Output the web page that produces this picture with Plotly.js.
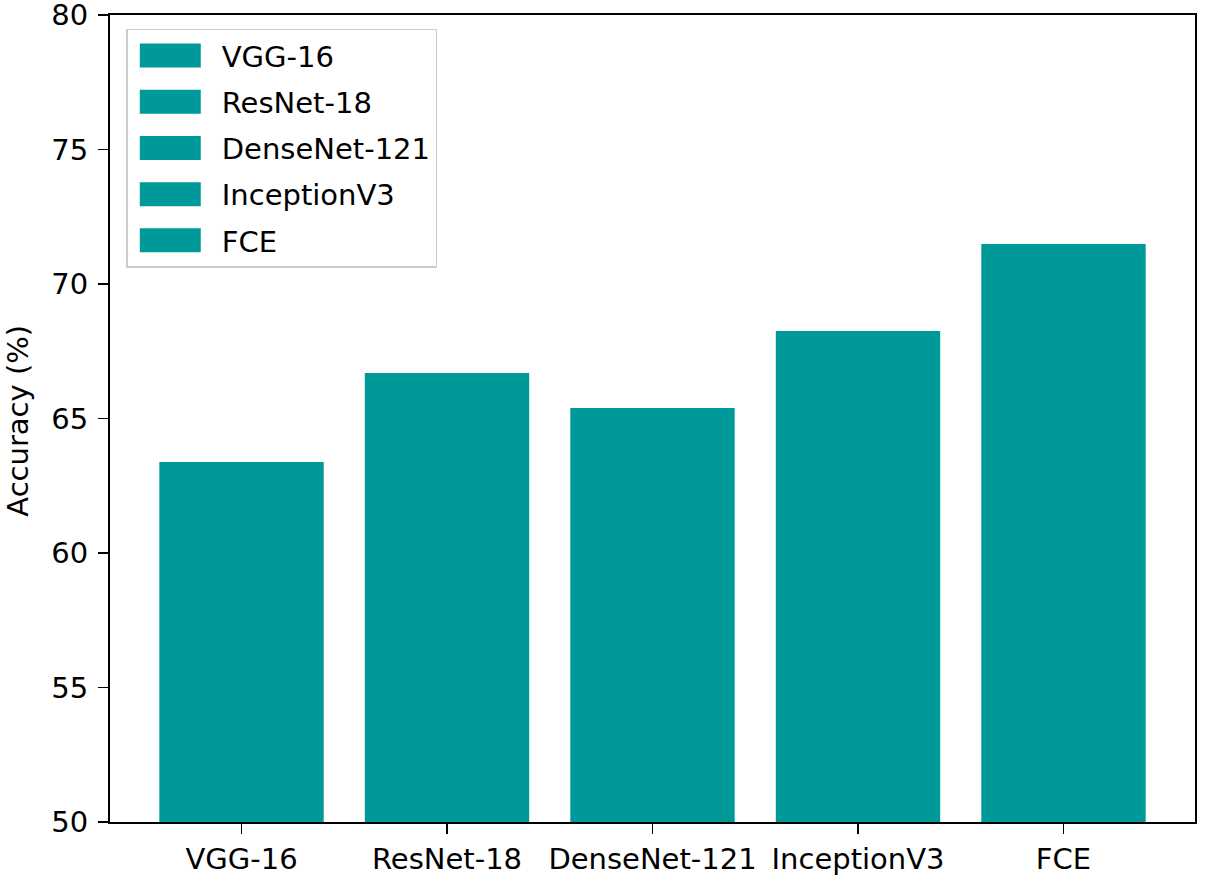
<!DOCTYPE html>
<html>
<head>
<meta charset="utf-8">
<script src="https://cdn.plot.ly/plotly-3.0.1.min.js"></script>
<style>
  html, body { margin: 0; padding: 0; background: #fff; }
  #chart { width: 1205px; height: 878px; }
</style>
</head>
<body>
<div id="chart"></div>
<script>
// model names and accuracy
const models = ['VGG-16', 'ResNet-18', 'DenseNet-121', 'InceptionV3', 'FCE'];
const accuracy = [63.38, 66.69, 65.39, 68.25, 71.49];
const yTicks = [50, 55, 60, 65, 70, 75, 80];

const barColor = '#009999';
const font = 'DejaVu Sans, sans-serif';
const fs = 29;

// one trace per model so each gets its own legend entry
let data = [];
for (let i = 0; i < models.length; i++) {
  data.push({
    type: 'bar',
    name: models[i],
    legendgroup: 'g' + i,
    x: [models[i]],
    y: [accuracy[i]],
    width: 0.8,
    marker: { color: barColor, line: { width: 0 } },
    hoverinfo: 'x+y'
  });
}

const layout = {
  width: 1205,
  height: 878,
  margin: { l: 110, r: 10, t: 15, b: 56 },
  paper_bgcolor: '#fff',
  plot_bgcolor: '#fff',
  barmode: 'overlay',
  font: { family: font, size: fs, color: '#000' },
  xaxis: {
    type: 'category',
    categoryorder: 'array',
    categoryarray: models,
    range: [-0.64, 4.64],
    showgrid: false,
    zeroline: false,
    showline: true,
    linecolor: '#000',
    linewidth: 2,
    mirror: true,
    ticks: 'outside',
    ticklen: 10,
    tickwidth: 1.5,
    tickcolor: '#000',
    tickfont: { family: font, size: fs, color: '#000' }
  },
  yaxis: {
    range: [50, 80],
    tickvals: yTicks,
    ticktext: yTicks.map(String),
    showgrid: false,
    zeroline: false,
    showline: true,
    linecolor: '#000',
    linewidth: 2,
    mirror: true,
    ticks: 'outside',
    ticklen: 10,
    tickwidth: 1.5,
    tickcolor: '#000',
    ticklabeloverflow: 'allow',
    ticklabelstandoff: 4,
    tickfont: { family: font, size: fs, color: '#000' }
  },
  // y axis title as a rotated annotation so it can sit close to the edge
  annotations: [{
    text: 'Accuracy (%)',
    textangle: -90,
    xref: 'paper',
    yref: 'paper',
    x: -0.085,
    y: 0.497,
    xanchor: 'center',
    yanchor: 'middle',
    showarrow: false,
    font: { family: font, size: fs, color: '#000' }
  }],
  showlegend: true,
  legend: {
    x: 0.015,
    y: 0.983,
    xanchor: 'left',
    yanchor: 'top',
    bgcolor: '#fff',
    bordercolor: '#cccccc',
    borderwidth: 1.5,
    font: { family: font, size: fs, color: '#000' },
    itemwidth: 84,
    traceorder: 'grouped',
    tracegroupgap: 5.5
  }
};

Plotly.newPlot('chart', data, layout, { displayModeBar: false, staticPlot: true }).then(function () {
  // widen the legend swatches so they look like the flat boxes of the original
  document.querySelectorAll('.legend .legendpoints path').forEach(function (p) {
    p.setAttribute('transform', 'translate(42.5,0) scale(5.08,2)');
  });
});
</script>
</body>
</html>
